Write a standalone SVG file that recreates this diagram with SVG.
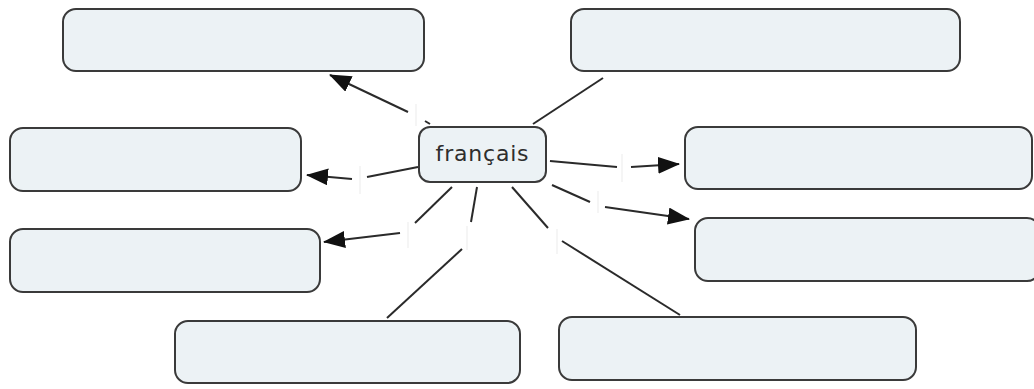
<svg xmlns="http://www.w3.org/2000/svg" width="1034" height="389" viewBox="0 0 1034 389">
  <style>
    .concept { fill: #ecf2f5; stroke: #3a3a3a; stroke-width: 2; }
    .link { stroke: #2a2a2a; stroke-width: 2; fill: none; stroke-linecap: butt; }
    .caret { stroke: #ebebeb; stroke-width: 1; }
    .label { font-family: "DejaVu Sans", Verdana, sans-serif; font-size: 22px; fill: #2e2e2e; letter-spacing: 0.8px; }
  </style>
  <defs>
    <marker id="arrow" markerUnits="userSpaceOnUse" markerWidth="23" markerHeight="18" refX="21" refY="8.5" orient="auto">
      <path d="M0,0 L22,8.5 L0,17 z" fill="#111"/>
    </marker>
  </defs>
  <rect width="1034" height="389" fill="#fff"/>

  <!-- connectors: concept -> (empty linking phrase) -> concept -->
  <g id="connectors">
    <line class="link" x1="430" y1="124" x2="425" y2="121"/>
    <line class="link" x1="408" y1="112" x2="330" y2="75" marker-end="url(#arrow)"/>

    <line class="link" x1="533" y1="124" x2="603" y2="78"/>

    <line class="link" x1="418" y1="167" x2="367" y2="177"/>
    <line class="link" x1="352" y1="179" x2="307" y2="175" marker-end="url(#arrow)"/>

    <line class="link" x1="452" y1="187" x2="415" y2="223"/>
    <line class="link" x1="400" y1="233" x2="324" y2="242" marker-end="url(#arrow)"/>

    <line class="link" x1="477" y1="187" x2="471" y2="222"/>
    <line class="link" x1="462" y1="249" x2="387" y2="318"/>

    <line class="link" x1="512" y1="187" x2="548" y2="228"/>
    <line class="link" x1="562" y1="241" x2="680" y2="315"/>

    <line class="link" x1="550" y1="161" x2="617" y2="167"/>
    <line class="link" x1="631" y1="167" x2="679" y2="164" marker-end="url(#arrow)"/>

    <line class="link" x1="552" y1="185" x2="590" y2="202"/>
    <line class="link" x1="605" y1="207" x2="689" y2="219" marker-end="url(#arrow)"/>

    <!-- placeholders of the empty linking phrases -->
    <line class="caret" x1="416" y1="104" x2="416" y2="126"/>
    <line class="caret" x1="360" y1="166" x2="360" y2="194"/>
    <line class="caret" x1="408" y1="222" x2="408" y2="248"/>
    <line class="caret" x1="467" y1="226" x2="467" y2="250"/>
    <line class="caret" x1="557" y1="229" x2="557" y2="254"/>
    <line class="caret" x1="622" y1="154" x2="622" y2="182"/>
    <line class="caret" x1="598" y1="191" x2="598" y2="213"/>
  </g>

  <g id="node-center">
    <rect class="concept" x="419" y="127" width="127" height="55" rx="11"/>
    <text class="label" x="482.5" y="160.5" text-anchor="middle">français</text>
  </g>
  <g id="node-top-left"><rect class="concept" x="63" y="9" width="361" height="62" rx="13"/></g>
  <g id="node-top-right"><rect class="concept" x="571" y="9" width="389" height="62" rx="13"/></g>
  <g id="node-left-upper"><rect class="concept" x="10" y="128" width="291" height="63" rx="13"/></g>
  <g id="node-left-lower"><rect class="concept" x="10" y="229" width="310" height="63" rx="13"/></g>
  <g id="node-bottom-left"><rect class="concept" x="175" y="321" width="345" height="62" rx="13"/></g>
  <g id="node-bottom-right"><rect class="concept" x="559" y="317" width="357" height="63" rx="13"/></g>
  <g id="node-right-upper"><rect class="concept" x="685" y="127" width="347" height="62" rx="13"/></g>
  <g id="node-right-lower"><rect class="concept" x="695" y="218" width="345" height="63" rx="13"/></g>
</svg>
